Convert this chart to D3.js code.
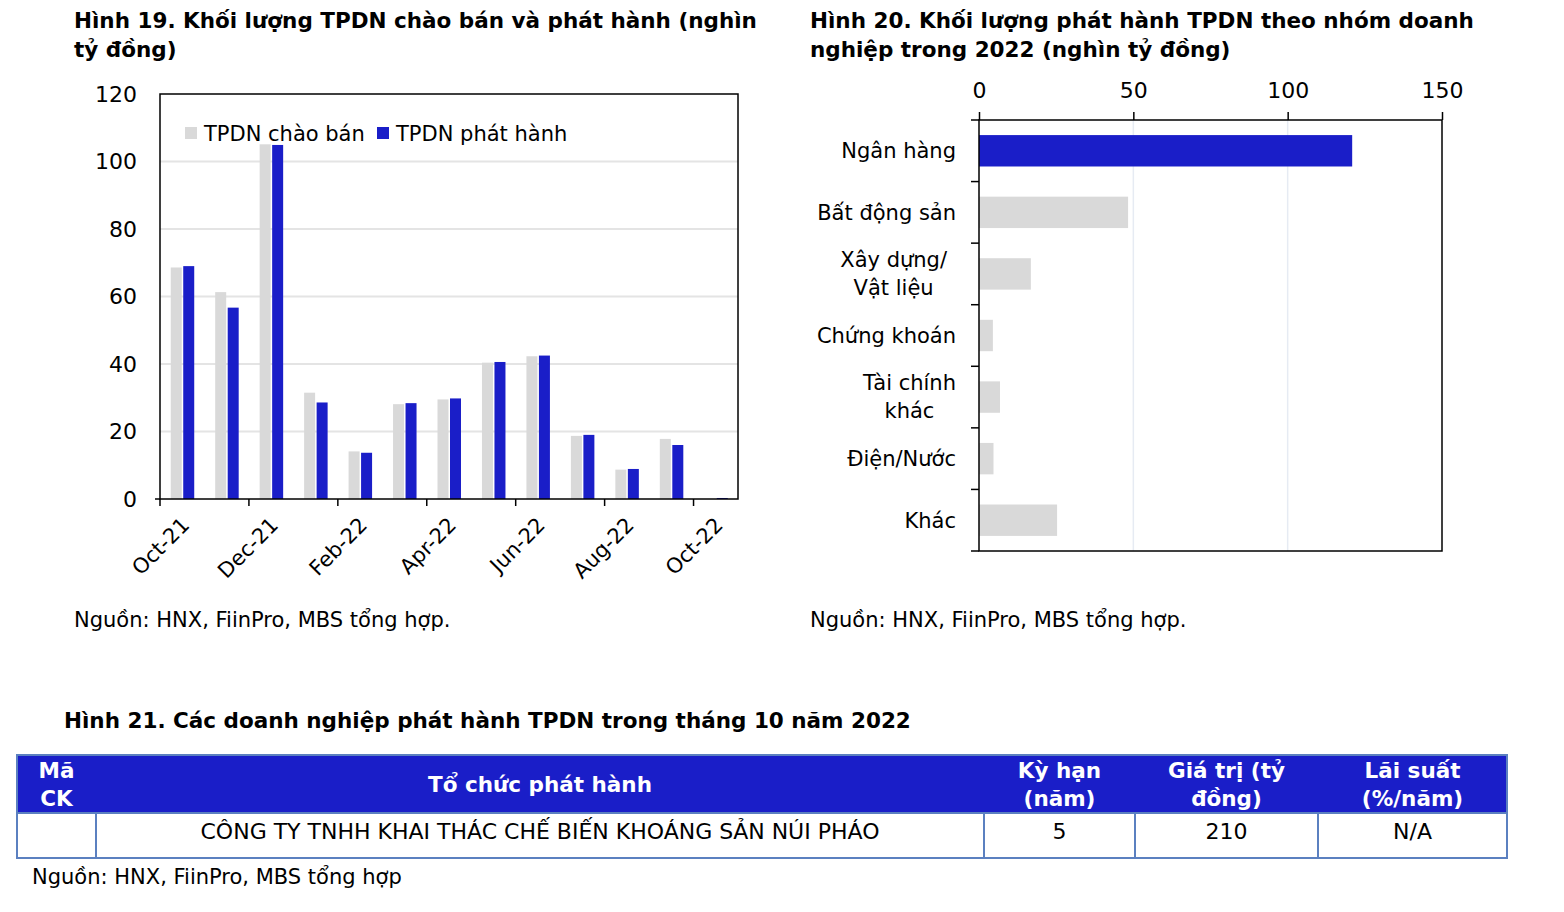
<!DOCTYPE html>
<html><head><meta charset="utf-8">
<script src="https://cdn.jsdelivr.net/npm/d3@7"></script>
<style>
body{margin:0;background:#fff;}
svg text{font-family:"DejaVu Sans",sans-serif;fill:#000;}
</style></head>
<body>
<svg id="c" width="1564" height="912"></svg>
<script>
// ---- Data ----
const months = ["Oct-21","Nov-21","Dec-21","Jan-22","Feb-22","Mar-22","Apr-22","May-22","Jun-22","Jul-22","Aug-22","Sep-22","Oct-22"];
const offered = [68.6, 61.3, 105.1, 31.5, 14.1, 28.1, 29.5, 40.4, 42.3, 18.7, 8.7, 17.8, 0];
const issued  = [69.0, 56.7, 104.9, 28.6, 13.7, 28.4, 29.8, 40.6, 42.5, 19.0, 8.9, 16.0, 0.3];
const seriesNames = ["TPDN chào bán","TPDN phát hành"];
const yTicks = [0,20,40,60,80,100,120];

const sectors = [["Ngân hàng"],["Bất động sản"],["Xây dựng/","Vật liệu"],["Chứng khoán"],["Tài chính","khác"],["Điện/Nước"],["Khác"]];
const sectorValues = [120.9, 48.3, 16.8, 4.5, 6.8, 4.7, 25.3];
const xTicks2 = [0,50,100,150];

const tableHeader = [["Mã","CK"],["Tổ chức phát hành"],["Kỳ hạn","(năm)"],["Giá trị (tỷ","đồng)"],["Lãi suất","(%/năm)"]];
const tableRow = ["", "CÔNG TY TNHH KHAI THÁC CHẾ BIẾN KHOÁNG SẢN NÚI PHÁO", "5", "210", "N/A"];

const BLUE = "#1a1ec8", GRAY = "#d9d9d9", TBORDER = "#5b80c0";
const svg = d3.select("#c");
const FS = 21, FB = 21.5;

// ---- Titles ----
function lines(x, y, arr, lh, opts) {
  const t = svg.append("text").attr("x", x).attr("y", y)
    .attr("font-size", opts.size || (opts.bold ? FB : FS)).attr("font-weight", opts.bold ? "bold" : "normal");
  arr.forEach((s, i) => t.append("tspan").attr("x", x).attr("dy", i ? lh : 0).text(s));
  return t;
}
lines(74, 28, ["Hình 19. Khối lượng TPDN chào bán và phát hành (nghìn","tỷ đồng)"], 29, {bold:true});
lines(810, 28, ["Hình 20. Khối lượng phát hành TPDN theo nhóm doanh","nghiệp trong 2022 (nghìn tỷ đồng)"], 29, {bold:true});
lines(74, 627, ["Nguồn: HNX, FiinPro, MBS tổng hợp."], 0, {});
lines(810, 627, ["Nguồn: HNX, FiinPro, MBS tổng hợp."], 0, {});
lines(64, 728, ["Hình 21. Các doanh nghiệp phát hành TPDN trong tháng 10 năm 2022"], 0, {bold:true});
lines(32, 884, ["Nguồn: HNX, FiinPro, MBS tổng hợp"], 0, {});

// ---- Chart 1 ----
{
  const L = 160, R = 738, T = 94, B = 499;
  const x = d3.scaleBand().domain(months).range([L, R]).padding(0);
  const xs = d3.scaleBand().domain(seriesNames).range([-11.5, 12]).paddingInner(0.12);
  const y = d3.scaleLinear().domain([0,120]).range([B, T]);
  const g = svg.append("g");
  g.selectAll("line.grid").data(yTicks.filter(d => d > 0 && d < 120)).join("line")
    .attr("x1", L).attr("x2", R).attr("y1", d => y(d)).attr("y2", d => y(d))
    .attr("stroke", "#e4e4e4").attr("stroke-width", 2);
  const data = months.map((m, i) => ({m, v: [offered[i], issued[i]]}));
  const grp = g.selectAll("g.m").data(data).join("g")
    .attr("transform", d => `translate(${x(d.m) + x.bandwidth()/2},0)`);
  grp.selectAll("rect").data(d => d.v.map((v, j) => ({v, s: seriesNames[j]}))).join("rect")
    .attr("x", d => xs(d.s)).attr("width", xs.bandwidth())
    .attr("y", d => y(d.v)).attr("height", d => B - y(d.v))
    .attr("fill", (d, j) => j ? BLUE : GRAY);
  g.append("rect").attr("x", L).attr("y", T).attr("width", R - L).attr("height", B - T)
    .attr("fill", "none").attr("stroke", "#000").attr("stroke-width", 1.5);
  // y axis
  const ya = g.append("g").attr("transform", `translate(${L},0)`)
    .call(d3.axisLeft(y).tickValues(yTicks).tickSize(0).tickPadding(23));
  ya.select(".domain").remove();
  ya.selectAll("text").attr("font-size", 22).attr("font-family", "DejaVu Sans Condensed").attr("fill", "#000");
  g.append("line").attr("x1", L - 5).attr("x2", L).attr("y1", B).attr("y2", B).attr("stroke", "#000").attr("stroke-width", 1.5);
  // x ticks at every other category left edge
  const tickMonths = months.filter((m, i) => i % 2 === 0);
  g.selectAll("line.xt").data(tickMonths).join("line")
    .attr("x1", d => x(d)).attr("x2", d => x(d)).attr("y1", B).attr("y2", B + 7)
    .attr("stroke", "#000").attr("stroke-width", 1.5);
  g.selectAll("text.xl").data(tickMonths).join("text")
    .attr("transform", d => `translate(${x(d) + x.bandwidth()/2 - 2},${B + 17}) rotate(-45)`)
    .attr("text-anchor", "end").attr("dy", "0.7em").attr("font-size", FS).text(d => d);
  // legend
  const lg = g.append("g");
  const lx = [185, 377];
  seriesNames.forEach((s, j) => {
    lg.append("rect").attr("x", lx[j]).attr("y", 127).attr("width", 12).attr("height", 12).attr("fill", j ? BLUE : GRAY);
    lg.append("text").attr("x", lx[j] + 19).attr("y", 141).attr("font-size", FS).text(s);
  });
}

// ---- Chart 2 ----
{
  const L = 979, R = 1442, T = 120, B = 551;
  const x = d3.scaleLinear().domain([0,150]).range([L, R]);
  const y = d3.scaleBand().domain(d3.range(sectors.length)).range([T, B]).padding(0);
  const g = svg.append("g");
  g.selectAll("line.grid").data([50,100]).join("line")
    .attr("x1", d => x(d)).attr("x2", d => x(d)).attr("y1", T).attr("y2", B)
    .attr("stroke", "#e6ebf3").attr("stroke-width", 1.5);
  g.selectAll("rect.bar").data(sectorValues).join("rect")
    .attr("x", L).attr("y", (d, i) => y(i) + y.bandwidth()*0.245)
    .attr("width", d => x(d) - L).attr("height", y.bandwidth()*0.51)
    .attr("fill", (d, i) => i === 0 ? BLUE : GRAY);
  g.append("rect").attr("x", L).attr("y", T).attr("width", R - L).attr("height", B - T)
    .attr("fill", "none").attr("stroke", "#000").attr("stroke-width", 1.5);
  const xa = g.append("g").attr("transform", `translate(0,${T})`)
    .call(d3.axisTop(x).tickValues(xTicks2).tickSize(8).tickPadding(14));
  xa.select(".domain").remove();
  xa.selectAll("line").attr("stroke", "#000").attr("stroke-width", 1.5);
  xa.selectAll("text").attr("font-size", 22).attr("font-family", "DejaVu Sans Condensed").attr("fill", "#000");
  // left ticks at band boundaries
  const bounds = d3.range(sectors.length + 1).map(i => T + i * y.step());
  g.selectAll("line.yt").data(bounds).join("line")
    .attr("x1", L - 8).attr("x2", L).attr("y1", d => d).attr("y2", d => d)
    .attr("stroke", "#000").attr("stroke-width", 1.5);
  // labels
  sectors.forEach((ls, i) => {
    const cy = y(i) + y.bandwidth()/2;
    const t = g.append("text").attr("font-size", FS).attr("text-anchor", ls.length > 1 ? "middle" : "end");
    if (ls.length === 1) {
      t.attr("x", 956).attr("y", cy).attr("dy", "0.35em").text(ls[0]);
    } else {
      ls.forEach((s, k) => t.append("tspan").attr("y", cy + (k - 0.5) * 28).attr("dy", "0.35em").text(s));
      let w = 0;
      t.selectAll("tspan").each(function(){ w = Math.max(w, this.getComputedTextLength()); });
      const shift = i === 2 ? 9 : 0;
      t.selectAll("tspan").attr("x", 956 - w/2 - shift);
    }
  });
}

// ---- Table ----
{
  const cols = [17, 96, 984, 1135, 1318, 1507];
  const hT = 755, hB = 813, rB = 858;
  const g = svg.append("g");
  g.append("rect").attr("x", cols[0]).attr("y", hT).attr("width", cols[5]-cols[0]).attr("height", hB-hT).attr("fill", BLUE);
  g.append("rect").attr("x", cols[0]).attr("y", hT).attr("width", cols[5]-cols[0]).attr("height", rB-hT)
    .attr("fill", "none").attr("stroke", TBORDER).attr("stroke-width", 2);
  g.append("line").attr("x1", cols[0]).attr("x2", cols[5]).attr("y1", hB).attr("y2", hB).attr("stroke", TBORDER).attr("stroke-width", 2);
  g.selectAll("line.cd").data(cols.slice(1, 5)).join("line")
    .attr("x1", d => d).attr("x2", d => d).attr("y1", hB).attr("y2", rB).attr("stroke", TBORDER).attr("stroke-width", 2);
  tableHeader.forEach((ls, i) => {
    const cx = (cols[i] + cols[i+1]) / 2, cy = (hT + hB) / 2;
    const t = g.append("text").attr("font-size", FB).attr("font-weight", "bold").attr("text-anchor", "middle").style("fill", "#fff");
    ls.forEach((s, k) => t.append("tspan").attr("x", cx).attr("y", cy + (k - (ls.length-1)/2) * 28).attr("dy", "0.35em").text(s));
  });
  tableRow.forEach((s, i) => {
    g.append("text").attr("x", (cols[i] + cols[i+1]) / 2).attr("y", 831).attr("dy", "0.35em")
      .attr("font-size", 22).attr("font-family", "DejaVu Sans Condensed").attr("text-anchor", "middle").text(s);
  });
}
</script>
</body></html>
